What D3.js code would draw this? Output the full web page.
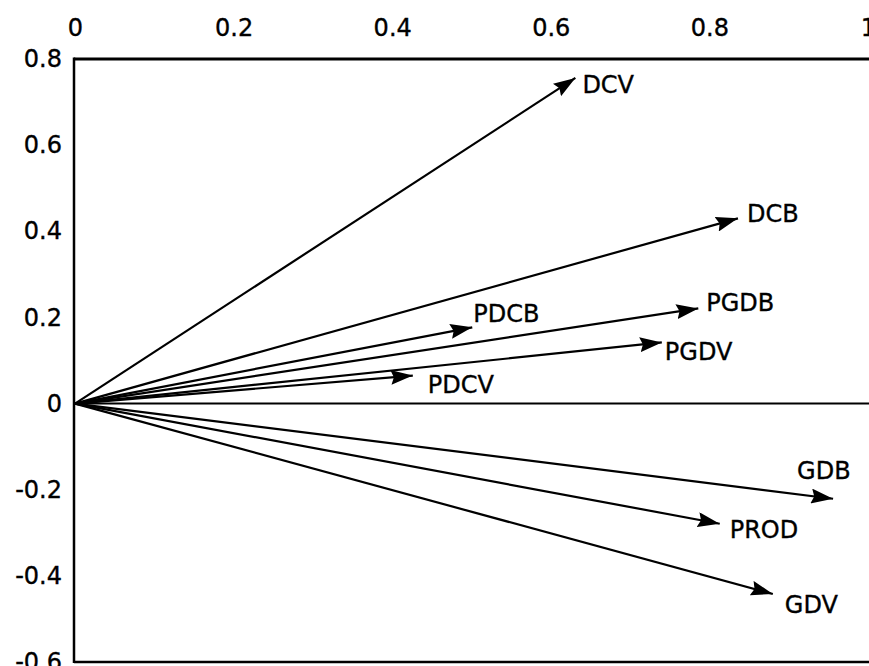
<!DOCTYPE html>
<html>
<head>
<meta charset="utf-8">
<script src="https://cdn.jsdelivr.net/npm/d3@7"></script>
<style>
    body { margin: 0; background: #fff; }
    svg text { font-family: "DejaVu Sans", Verdana, sans-serif; fill: #000; stroke: #000; stroke-width: 0.35px; }
</style>
</head>
<body>
<svg width="869" height="666"></svg>
<script>
// Loadings
const variables = ["DCV", "DCB", "PDCB", "PGDB", "PGDV", "PDCV", "GDB", "PROD", "GDV"]
const axis_1 = [0.631, 0.836, 0.501, 0.786, 0.740, 0.426, 0.956, 0.813, 0.880]
const axis_2 = [0.756, 0.430, 0.177, 0.221, 0.142, 0.065, -0.221, -0.279, -0.442]
const x_ticks = [0, 0.2, 0.4, 0.6, 0.8, 1]
const y_ticks = [0.8, 0.6, 0.4, 0.2, 0, -0.2, -0.4, -0.6]

// where each name sits relative to its arrow tip (px)
const label_offset = {
    DCV: [7, 15], DCB: [9, 4], PDCB: [1, -5], PGDB: [8, 3], PGDV: [3, 18],
    PDCV: [15, 17], GDB: [-36, -20], PROD: [10, 14], GDV: [12, 19]
}

const width = 869
const svg = d3.select("svg")

const x = d3.scaleLinear().domain([0, 1]).range([75, 868])
const y = d3.scaleLinear().domain([-0.6, 0.8]).range([662, 59])

svg.append("defs")
    .append("marker")
    .attr("id", "head")
    .attr("markerUnits", "userSpaceOnUse")
    .attr("viewBox", "0 0 22 15")
    .attr("refX", 22)
    .attr("refY", 7.5)
    .attr("markerWidth", 22)
    .attr("markerHeight", 15)
    .attr("orient", "auto")
    .append("path")
    .attr("d", "M0,0L22,7.5L0,15L3,7.5Z")
    .attr("fill", "#000")

// Axes: labels only, the frame is drawn by hand below
const x_axis = d3.axisTop(x)
    .tickValues(x_ticks)
    .tickSize(0)
    .tickPadding(23)
    .tickFormat(d => String(d))

const y_axis = d3.axisLeft(y)
    .tickValues(y_ticks)
    .tickSize(0)
    .tickPadding(12)
    .tickFormat(d => String(d))

svg.append("g")
    .attr("transform", `translate(0,${y(0.8)})`)
    .call(x_axis)
    .call(g => g.select(".domain").remove())
    .selectAll("text")
    .style("font-size", "24px")

svg.append("g")
    .attr("transform", `translate(${x(0) - 1},0)`)
    .call(y_axis)
    .call(g => g.select(".domain").remove())
    .selectAll("text")
    .style("font-size", "24px")

// Frame and zero line
const frame = svg.append("g").attr("stroke", "#000").attr("fill", "none")
frame.append("line")
    .attr("x1", x(0) - 1).attr("x2", width)
    .attr("y1", y(0.8)).attr("y2", y(0.8))
    .attr("stroke-width", 3)
frame.append("line")
    .attr("x1", x(0) - 1).attr("x2", x(0) - 1)
    .attr("y1", y(0.8) - 1.5).attr("y2", y(-0.6) + 1)
    .attr("stroke-width", 2.5)
frame.append("line")
    .attr("x1", x(0) - 1).attr("x2", width)
    .attr("y1", y(-0.6)).attr("y2", y(-0.6))
    .attr("stroke-width", 2.5)
frame.append("line")
    .attr("x1", x(0) - 1).attr("x2", width)
    .attr("y1", y(0)).attr("y2", y(0))
    .attr("stroke-width", 2)

const points = variables.map((name, i) => ({name, a: axis_1[i], b: axis_2[i]}))

// Arrows from the origin
svg.append("g")
    .selectAll("line")
    .data(points)
    .enter()
    .append("line")
    .attr("x1", x(0))
    .attr("y1", y(0))
    .attr("x2", d => x(d.a))
    .attr("y2", d => y(d.b))
    .attr("stroke", "#000")
    .attr("stroke-width", 2.2)
    .attr("marker-end", "url(#head)")

svg.append("g")
    .selectAll("text")
    .data(points)
    .enter()
    .append("text")
    .attr("x", d => x(d.a) + label_offset[d.name][0])
    .attr("y", d => y(d.b) + label_offset[d.name][1])
    .style("font-size", "24px")
    .text(d => d.name)
</script>
</body>
</html>
